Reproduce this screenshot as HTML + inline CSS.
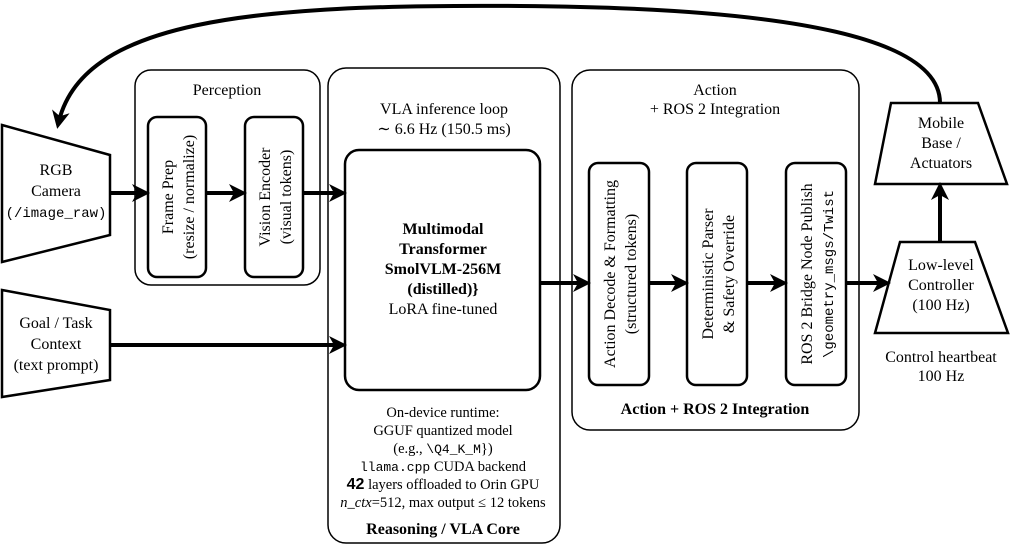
<!DOCTYPE html>
<html><head><style>body{margin:0;background:#fff}svg{display:block}</style></head><body>
<svg width="1011" height="548" viewBox="0 0 1011 548" xmlns="http://www.w3.org/2000/svg" font-family="Liberation Serif, serif" font-size="16" fill="#000">
<defs>
<marker id="b" markerWidth="18" markerHeight="18" refX="14" refY="9" orient="auto" markerUnits="userSpaceOnUse"><path d="M0,0 L18,9 L0,18 L5,9 Z" fill="#000"/></marker></defs>
<g fill="none" stroke="#000">
<path d="M940,103 C940,40 800,8 520,6 C250,4 80,20 58,125" stroke-width="4" marker-end="url(#b)"/>
<rect x="135" y="70" width="185" height="215" rx="16" stroke-width="1.5"/>
<rect x="328" y="68" width="232" height="475" rx="18" stroke-width="1.5"/>
<rect x="572" y="70" width="287" height="360" rx="18" stroke-width="1.5"/>
<rect x="148" y="117" width="58" height="160" rx="9" stroke-width="2.5"/>
<rect x="245" y="117" width="58" height="160" rx="9" stroke-width="2.5"/>
<rect x="345" y="150" width="195" height="240" rx="14" stroke-width="2.5"/>
<rect x="589" y="163" width="60" height="222" rx="9" stroke-width="2.5"/>
<rect x="687" y="163" width="60" height="222" rx="9" stroke-width="2.5"/>
<rect x="786" y="163" width="60" height="222" rx="9" stroke-width="2.5"/>
<path d="M2,125 L110,155 L110,235 L2,262 Z" stroke-width="2.5"/>
<path d="M2,290 L110,310 L110,380 L2,397 Z" stroke-width="2.5"/>
<path d="M891,103 L978,103 L1007,184 L875,184 Z" stroke-width="2.5"/>
<path d="M900,242 L975,242 L1008,333 L875,333 Z" stroke-width="2.5"/>
<g stroke-width="4">
<line x1="110" y1="193" x2="146" y2="193" marker-end="url(#b)"/>
<line x1="206" y1="193" x2="243" y2="193" marker-end="url(#b)"/>
<line x1="303" y1="193" x2="343" y2="193" marker-end="url(#b)"/>
<line x1="110" y1="345" x2="343" y2="345" marker-end="url(#b)"/>
<line x1="540" y1="283" x2="587" y2="283" marker-end="url(#b)"/>
<line x1="649" y1="283" x2="685" y2="283" marker-end="url(#b)"/>
<line x1="747" y1="283" x2="784" y2="283" marker-end="url(#b)"/>
<line x1="846" y1="283" x2="887" y2="283" marker-end="url(#b)"/>
<line x1="940" y1="242" x2="940" y2="186" marker-end="url(#b)"/>
</g></g>
<g text-anchor="middle">
<text x="227" y="95">Perception</text>
<text x="56" y="175">RGB</text><text x="56" y="196">Camera</text>
<text x="56" y="217"><tspan font-family="Liberation Mono, monospace" font-size="14">(/image_raw)</tspan></text>
<text x="56" y="328">Goal / Task</text><text x="56" y="349">Context</text><text x="56" y="370">(text prompt)</text>
<text transform="translate(177,197) rotate(-90)"><tspan x="0" dy="-4">Frame Prep</tspan><tspan x="0" dy="21">(resize / normalize)</tspan></text>
<text transform="translate(274,197) rotate(-90)"><tspan x="0" dy="-4">Vision Encoder</tspan><tspan x="0" dy="21">(visual tokens)</tspan></text>
<text x="444" y="114">VLA inference loop</text>
<text x="444" y="134">∼ 6.6 Hz (150.5 ms)</text>
<g font-weight="bold"><text x="443" y="234">Multimodal</text><text x="443" y="254">Transformer</text><text x="443" y="274">SmolVLM-256M</text><text x="443" y="294">(distilled)}</text></g>
<text x="443" y="314">LoRA fine-tuned</text>
<g font-size="14.5"><text x="443" y="417">On-device runtime:</text>
<text x="443" y="435">GGUF quantized model</text>
<text x="443" y="453">(e.g., <tspan font-family="Liberation Mono, monospace" font-size="13">\Q4_K_M</tspan>})</text>
<text x="443" y="471"><tspan font-family="Liberation Mono, monospace" font-size="13">llama.cpp</tspan> CUDA backend</text>
<text x="443" y="489"><tspan font-family="Liberation Sans, sans-serif" font-weight="bold" font-size="16">42</tspan> layers offloaded to Orin GPU</text>
<text x="443" y="507"><tspan font-style="italic">n_ctx</tspan>=512, max output ≤ 12 tokens</text></g>
<text x="443" y="534" font-weight="bold" font-size="16">Reasoning / VLA Core</text>
<text x="715" y="95">Action</text><text x="715" y="114">+ ROS 2 Integration</text>
<text x="715" y="414" font-weight="bold" font-size="16">Action + ROS 2 Integration</text>
<text transform="translate(619,274) rotate(-90)"><tspan x="0" dy="-4">Action Decode &amp; Formatting</tspan><tspan x="0" dy="21">(structured tokens)</tspan></text>
<text transform="translate(717,274) rotate(-90)"><tspan x="0" dy="-4">Deterministic Parser</tspan><tspan x="0" dy="21">&amp; Safety Override</tspan></text>
<text transform="translate(816,274) rotate(-90)"><tspan x="0" dy="-4">ROS 2 Bridge Node Publish</tspan><tspan x="0" dy="21" font-family="Liberation Mono, monospace" font-size="14">\geometry_msgs/Twist</tspan></text>
<text x="941" y="128">Mobile</text><text x="941" y="148">Base /</text><text x="941" y="168">Actuators</text>
<text x="941" y="270">Low-level</text><text x="941" y="290">Controller</text><text x="941" y="310">(100 Hz)</text>
<text x="941" y="362">Control heartbeat</text><text x="941" y="381">100 Hz</text>
</g>
</svg>
</body></html>
